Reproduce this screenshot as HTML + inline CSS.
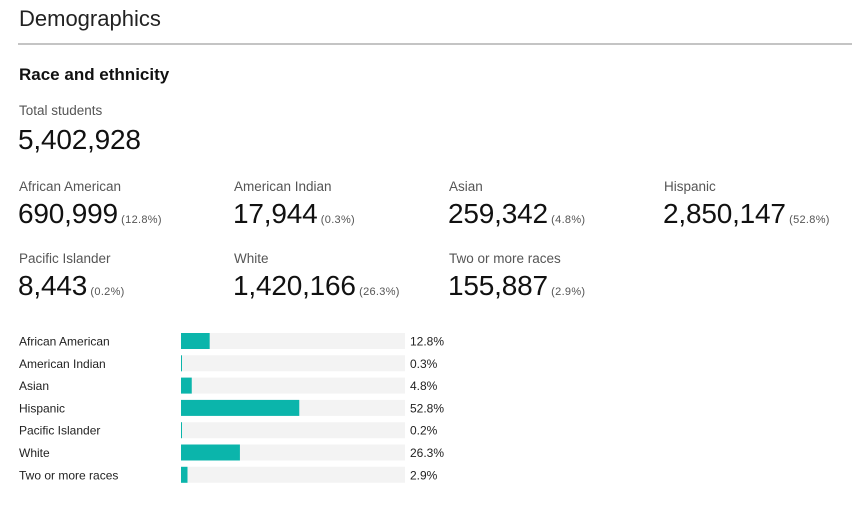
<!DOCTYPE html>
<html><head><meta charset="utf-8"><style>
body{margin:0;width:852px;height:506px;background:#fff;font-family:"Liberation Sans",sans-serif;color:#111;position:relative;overflow:hidden}
.a{position:absolute;white-space:nowrap}
.lab{font-size:13.5px;color:#555}
.num{font-size:28px;color:#111;letter-spacing:-0.2px}
.pct{font-size:11px;color:#555;letter-spacing:0.3px}
</style></head><body>
<div class="a" style="left:19px;top:6px;font-size:22px;color:#222">Demographics</div>
<div class="a" style="left:18px;top:43px;width:834px;height:2px;background:#c4c4c4"></div>
<div class="a" style="left:19px;top:65px;font-size:17px;font-weight:bold">Race and ethnicity</div>
<div class="a lab" style="left:19px;top:103px">Total students</div>
<div class="a num" style="left:18px;top:124px">5,402,928</div>
<div id="stats"></div>
<svg id="chart" class="a" style="left:0;top:327px" width="852" height="175"></svg>
<script>
const categories=["African American","American Indian","Asian","Hispanic","Pacific Islander","White","Two or more races"];
const counts=["690,999","17,944","259,342","2,850,147","8,443","1,420,166","155,887"];
const percents=[12.8,0.3,4.8,52.8,0.2,26.3,2.9];
const stats=document.getElementById('stats');
categories.forEach((c,i)=>{
  const col=i<4?i:i-4, row=i<4?0:1;
  const x=19+col*215, y=179+row*72;
  const l=document.createElement('div');l.className='a lab';l.style.left=x+'px';l.style.top=y+'px';l.textContent=c;
  
  
  const n=document.createElement('div');n.className='a';n.style.left=(x-1)+'px';n.style.top=(y+19)+'px';
  n.innerHTML='<span class="num">'+counts[i]+'</span><span class="pct"> ('+percents[i]+'%)</span>';
  
  
  stats.appendChild(l);stats.appendChild(n);
});
const svg=document.getElementById('chart'),NS='http://www.w3.org/2000/svg';
const x0=181,tw=224;
const xs=v=>v/100*tw;
const ys=i=>14+i*22.3;
categories.forEach((c,i)=>{
  const y=ys(i);
  const t=document.createElementNS(NS,'text');t.setAttribute('x',19);t.setAttribute('y',y+4.5);t.setAttribute('font-size','12');t.setAttribute('fill','#222');t.setAttribute('font-family','Liberation Sans, sans-serif');t.textContent=c;
  
  
  svg.appendChild(t);
  const tr=document.createElementNS(NS,'rect');tr.setAttribute('x',x0);tr.setAttribute('y',y-8);tr.setAttribute('width',tw);tr.setAttribute('height',16);tr.setAttribute('fill','#f3f3f3');
  
  
  svg.appendChild(tr);
  const b=document.createElementNS(NS,'rect');b.setAttribute('x',x0);b.setAttribute('y',y-8);b.setAttribute('width',Math.max(1,xs(percents[i])));b.setAttribute('height',16);b.setAttribute('fill','#0bb5ab');
  
  
  svg.appendChild(b);
  const p=document.createElementNS(NS,'text');p.setAttribute('x',410);p.setAttribute('y',y+4.5);p.setAttribute('font-size','12');p.setAttribute('fill','#222');p.setAttribute('font-family','Liberation Sans, sans-serif');p.textContent=percents[i]+'%';
  
  
  svg.appendChild(p);
});
</script>
</body></html>
